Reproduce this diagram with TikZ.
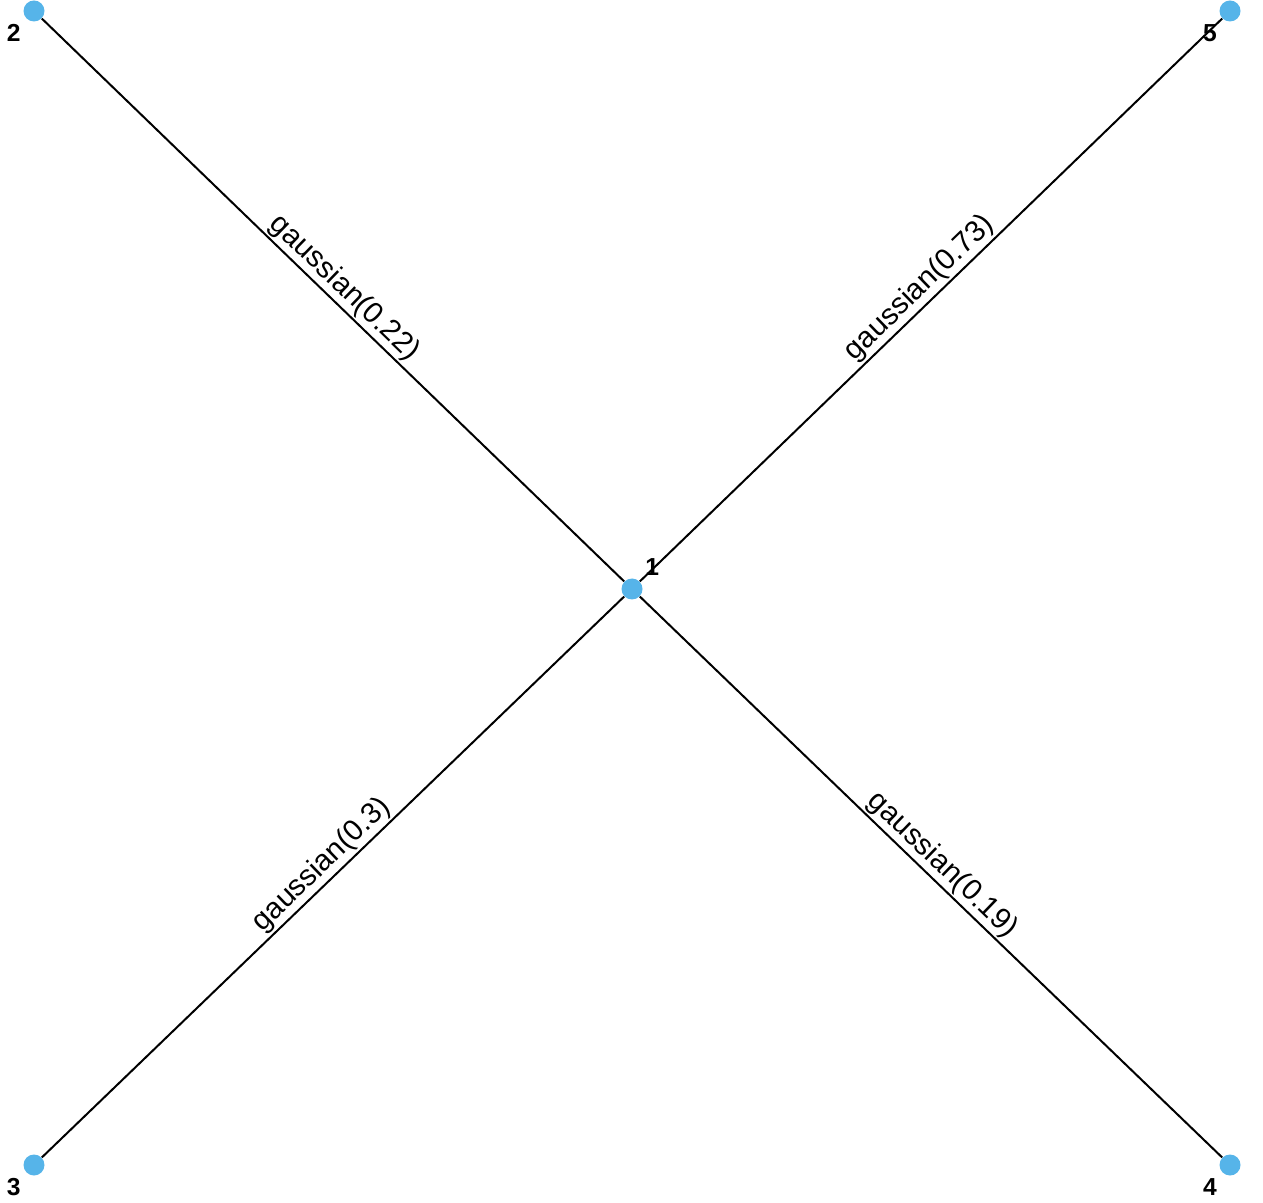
\documentclass[tikz,border=0pt]{standalone}
\usepackage{fontspec}
\setmainfont{Liberation Sans}
\usetikzlibrary{positioning}

\begin{document}
\begin{tikzpicture}[x=0.2mm,y=-0.2mm,
    vertex/.style={circle,fill={rgb,255:red,86;green,180;blue,233},draw=none,minimum size=4.2mm,inner sep=0pt},
    vlab/.style={font=\fontsize{14}{16}\selectfont\bfseries,inner sep=0pt},
    wlab/.style={font=\fontsize{16.8}{20}\selectfont,sloped,above,inner sep=1pt},
    every label/.style={vlab},label distance=1.5mm]
    \useasboundingbox (0,0) rectangle (1263,1203);
    % vertices
    \node[vertex,label={45:1}] (n1) at (632,589) {};
    \node[vertex,label={225:2}] (n2) at (34,11) {};
    \node[vertex,label={225:3}] (n3) at (34,1165) {};
    \node[vertex,label={225:4}] (n4) at (1230,1165) {};
    \node[vertex,label={225:5}] (n5) at (1230,11) {};
    % edges
    \foreach \t/\w in {2/0.22,3/0.3,4/0.19,5/0.73}{
        \draw[line width=0.4mm] (n1) -- node[wlab] {gaussian(\w)} (n\t);
    }
\end{tikzpicture}
\end{document}
